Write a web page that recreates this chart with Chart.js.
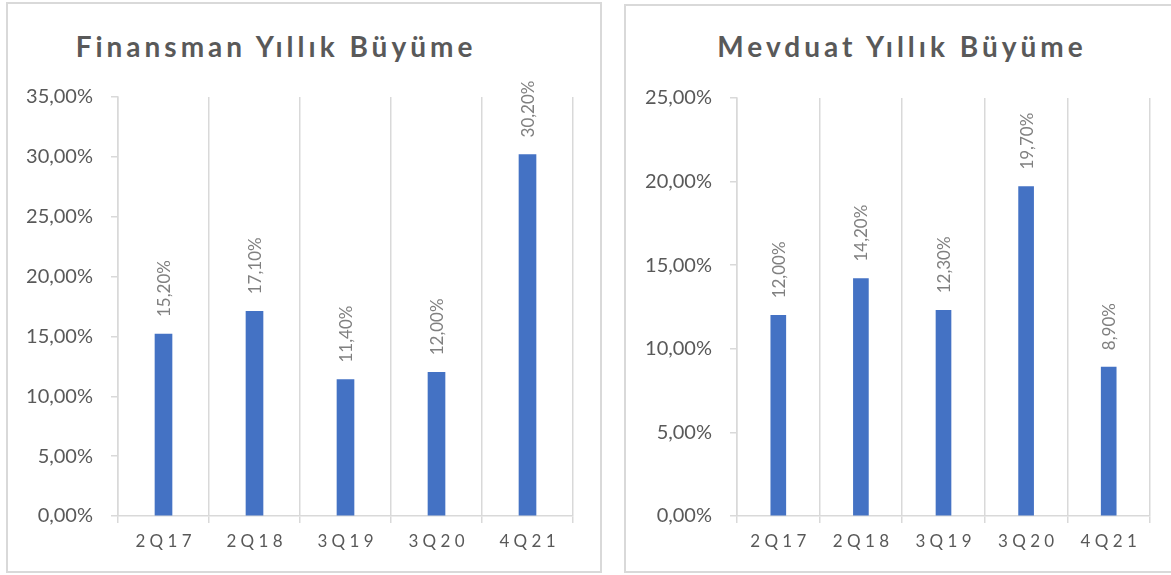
<!DOCTYPE html>
<html>
<head>
<meta charset="utf-8">
<script src="https://cdn.jsdelivr.net/npm/chart.js@4/dist/chart.umd.min.js"></script>
<style>
  body { margin: 0; background: #fff; width: 1171px; height: 575px; overflow: hidden; position: relative; font-family: Lato, "Open Sans", sans-serif; }
  .panel { position: absolute; border: 2px solid #d9d9d9; box-sizing: border-box; background: #fff; }
  .panel h2 { position: absolute; left: 0; margin: 0; text-align: center; font-weight: bold; color: #595959; letter-spacing: 4px; font-size: 28px; }
  .panel canvas { position: absolute; left: 0; top: 0; }
</style>
</head>
<body>
<div class="panel" id="p1" style="left:6px; top:2px; width:596px; height:571px;">
  <h2 style="top:25px; width:536px;">Finansman Yıllık Büyüme</h2>
  <canvas id="finChart"></canvas>
</div>
<div class="panel" id="p2" style="left:624px; top:4px; width:560px; height:569px;">
  <h2 style="top:23px; width:552px;">Mevduat Yıllık Büyüme</h2>
  <canvas id="mevChart"></canvas>
</div>
<script>
var quarters = ['2Q17', '2Q18', '3Q19', '3Q20', '4Q21'];
var finansmanGrowth = [15.2, 17.1, 11.4, 12.0, 30.2];
var mevduatGrowth = [12.0, 14.2, 12.3, 19.7, 8.9];
var finTicksMax = 35;
var mevTicksMax = 25;

var grey = '#d9d9d9';
var textCol = '#595959';

function pct(v) {
  return v.toFixed(2).replace('.', ',') + '%';
}

// vertical value labels above each bar
var barLabels = {
  id: 'barLabels',
  afterDatasetsDraw: function(chart) {
    var ctx = chart.ctx;
    var ds = chart.data.datasets[0];
    chart.getDatasetMeta(0).data.forEach(function(bar, i) {
      ctx.save();
      ctx.translate(bar.x, bar.y - 17);
      ctx.rotate(-Math.PI / 2);
      ctx.font = '17px Lato, "Open Sans", sans-serif';
      ctx.fillStyle = '#808080';
      ctx.textAlign = 'left';
      ctx.textBaseline = 'middle';
      ctx.fillText(pct(ds.data[i]), 0, 1);
      ctx.restore();
    });
  }
};

function makeChart(id, values, max, w, h, yWidth, padTop, padRight, barW) {
  var canvas = document.getElementById(id);
  canvas.style.width = w + 'px';
  canvas.style.height = h + 'px';
  return new Chart(canvas.getContext('2d'), {
    type: 'bar',
    data: {
      labels: quarters,
      datasets: [{
        data: values,
        backgroundColor: '#4472c4',
        barThickness: barW
      }]
    },
    options: {
      responsive: false,
      animation: false,
      devicePixelRatio: 1,
      layout: { padding: { top: padTop, right: padRight, left: 0, bottom: 0 } },
      plugins: { legend: { display: false }, tooltip: { enabled: false } },
      scales: {
        x: {
          afterFit: function(s) { s.height = 55; },
          grid: { color: grey, lineWidth: 1.5, tickLength: 7, offset: true },
          border: { color: grey, width: 1.5 },
          ticks: {
            color: textCol,
            padding: 8,
            font: { size: 17, family: 'Lato, "Open Sans", sans-serif' },
            callback: function(v, i) { return quarters[i].split('').join(' '); }
          }
        },
        y: {
          min: 0,
          max: max,
          afterFit: function(s) { s.width = yWidth; },
          grid: { drawOnChartArea: false, color: grey, lineWidth: 1.5, tickLength: 7 },
          border: { color: grey, width: 1.5 },
          ticks: {
            stepSize: 5,
            color: textCol,
            padding: 18,
            font: { size: 20, family: 'Lato, "Open Sans", sans-serif' },
            callback: function(v) { return pct(v); }
          }
        }
      }
    },
    plugins: [barLabels]
  });
}

makeChart('finChart', finansmanGrowth, finTicksMax, 592, 567, 110, 93, 27, 17);
makeChart('mevChart', mevduatGrowth, mevTicksMax, 556, 565, 111, 92, 32, 15);
</script>
</body>
</html>
